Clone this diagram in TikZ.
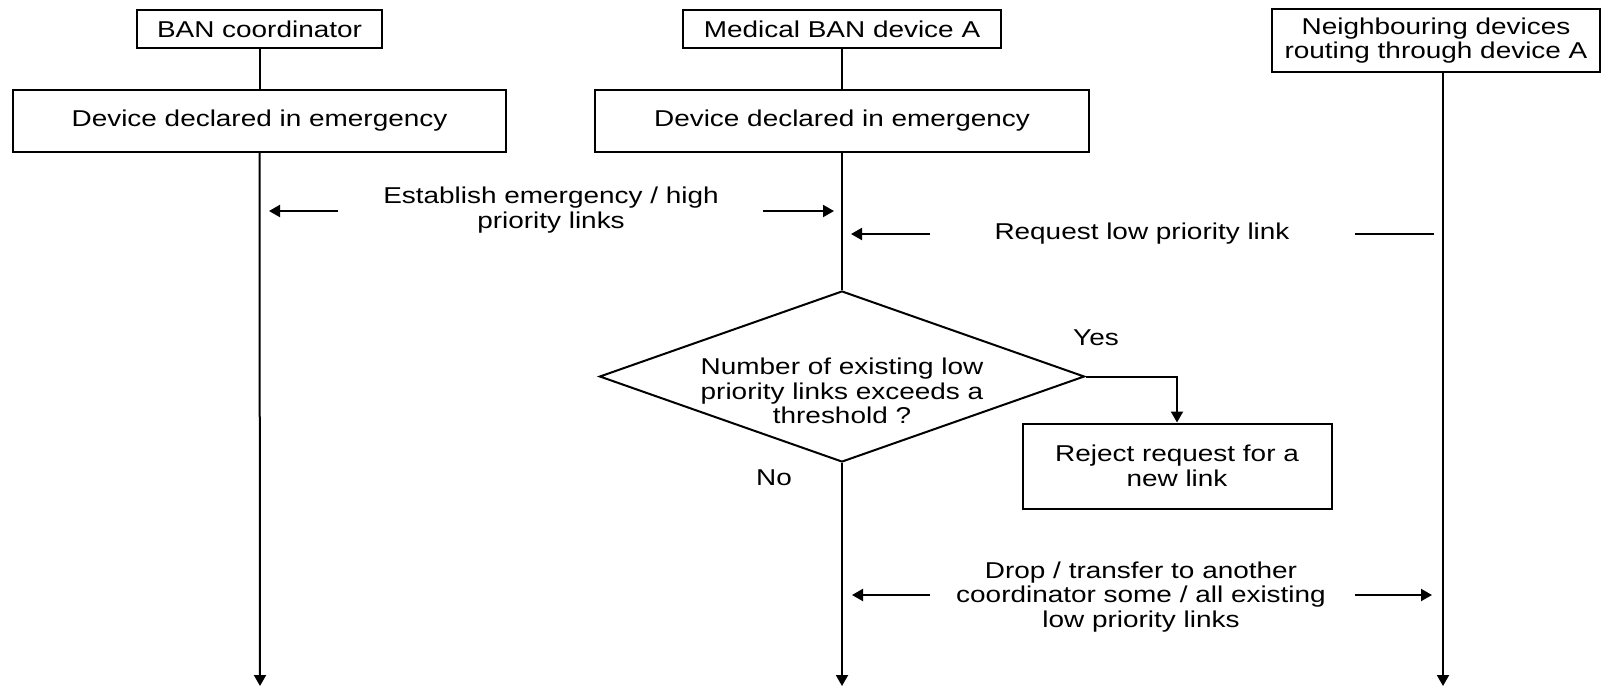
\documentclass[tikz,border=0pt]{standalone}
\usepackage{fontspec}
\setmainfont{Liberation Sans}[FakeStretch=1.22]
\usetikzlibrary{arrows.meta,shapes.geometric}
\begin{document}
\begin{tikzpicture}[x=0.5pt,y=-0.5pt,
  every node/.style={font=\fontsize{11.45}{12.4}\selectfont, align=center, inner sep=0pt},
  ln/.style={line width=1pt},
  arr/.style={ln,-{Triangle[length=5.5pt,width=6pt]}},
  boxed/.style={draw, ln, minimum height=#1},
  txt/.style={}
]
\useasboundingbox (0,0) rectangle (1602,687);

% headers
\node[boxed=19pt, minimum width=122.5pt] (ban) at (259.5,29) {BAN coordinator};
\node[boxed=19pt, minimum width=159pt] (med) at (842,29) {Medical BAN device A};
\node[boxed=31.5pt, minimum width=164pt] (nbr) at (1436,40.5) {Neighbouring devices\\routing through device A};

% emergency boxes
\node[boxed=31pt, minimum width=246.5pt] (dev1) at (259.5,121) {Device declared in emergency};
\node[boxed=31pt, minimum width=247pt] (dev2) at (842,121) {Device declared in emergency};

% decision
\node[draw, ln, shape=diamond, aspect=2.84, minimum width=242.5pt, minimum height=85.5pt] (q) at (842,376.5) {};
\node[txt] (qt) at (842,391) {Number of existing low\\priority links exceeds a\\threshold ?};
\node[boxed=42.5pt, minimum width=154.5pt] (rej) at (1177,466) {Reject request for a\\new link};
\node[txt] (yes) at (1096,338) {Yes};
\node[txt] (no) at (774,478) {No};

% lifeline ends
\coordinate (end1) at (260,686);
\coordinate (end2) at (842,686);
\coordinate (end3) at (1443,686);

% lifelines
\draw[ln] (ban.south) -- (dev1.north);
\draw[ln] (med.south) -- (dev2.north);
\draw[arr] (dev1.south) -- (end1);
\draw[ln] (dev2.south) -- (q.north);
\draw[arr] (q.south) -- (end2);
\draw[arr] (nbr.south -| end3) -- (end3);
\draw[arr] (q.east) -| (rej.north);

% messages
\node[txt] (est) at (551,210) {Establish emergency / high\\priority links};
\coordinate (e1a) at (338,211); \coordinate (e1b) at (269,211);
\coordinate (e2a) at (763,211); \coordinate (e2b) at (834,211);
\draw[arr] (e1a) -- (e1b);
\draw[arr] (e2a) -- (e2b);

\node[txt] (req) at (1142,234) {Request low priority link};
\coordinate (r1a) at (930,234); \coordinate (r1b) at (851,234);
\coordinate (r2a) at (1434,234); \coordinate (r2b) at (1355,234);
\draw[arr] (r1a) -- (r1b);
\draw[ln] (r2a) -- (r2b);

\node[txt] (drop) at (1141,597) {Drop / transfer to another\\coordinator some / all existing\\low priority links};
\coordinate (d1a) at (930,595); \coordinate (d1b) at (852,595);
\coordinate (d2a) at (1355,595); \coordinate (d2b) at (1432,595);
\draw[arr] (d1a) -- (d1b);
\draw[arr] (d2a) -- (d2b);
\end{tikzpicture}
\end{document}
